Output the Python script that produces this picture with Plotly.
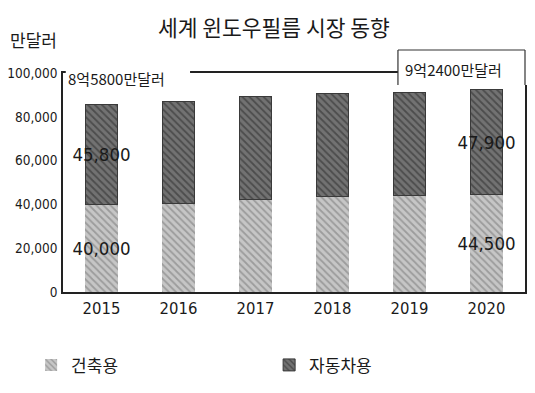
import plotly.graph_objects as go

years = ["2015", "2016", "2017", "2018", "2019", "2020"]
building = [40000, 40500, 42300, 43600, 44200, 44500]
automotive = [45800, 46600, 47000, 47000, 47100, 47900]
series_names = ["건축용", "자동차용"]
y_ticks = [0, 20000, 40000, 60000, 80000, 100000]
y_tick_labels = ["0", "20,000", "40,000", "60,000", "80,000", "100,000"]
labeled_years = ["2015", "2020"]
title_text = "세계 윈도우필름 시장 동향"
unit_text = "만달러"
total_start_text = "8억5800만달러"
total_end_text = "9억2400만달러"

NUM_FONT = "DejaVu Sans Condensed, Liberation Sans Narrow, sans-serif"
KR_FONT = "Noto Sans CJK KR, Noto Sans, sans-serif"


def labels(vals):
    return [f"{v:,}" if y in labeled_years else "" for y, v in zip(years, vals)]


fig = go.Figure()
fig.add_trace(go.Bar(
    x=years, y=building, name=series_names[0],
    text=labels(building), textposition="inside", insidetextanchor="middle",
    textangle=0, constraintext="none",
    textfont=dict(family=NUM_FONT, size=18.5, color="#1a1a1a"),
    marker=dict(color="#c4c4c4", line=dict(width=0),
                pattern=dict(shape="\\", fgcolor="#9c9c9c", bgcolor="#c6c6c6",
                             size=5, solidity=0.35, fillmode="replace")),
))
fig.add_trace(go.Bar(
    x=years, y=automotive, name=series_names[1],
    text=labels(automotive), textposition="inside", insidetextanchor="middle",
    textangle=0, constraintext="none",
    textfont=dict(family=NUM_FONT, size=18.5, color="#1a1a1a"),
    marker=dict(color="#6c6c6c", line=dict(width=1, color="#3a3a3a"),
                pattern=dict(shape="\\", fgcolor="#4c4c4c", bgcolor="#727272",
                             size=5, solidity=0.35, fillmode="replace")),
))

fig.update_layout(
    barmode="stack",
    bargap=0.58,
    width=535, height=393,
    margin=dict(l=55, r=18, t=65, b=109, autoexpand=False),
    paper_bgcolor="white", plot_bgcolor="white",
    font=dict(family=KR_FONT, color="#1a1a1a"),
    title=dict(text=title_text, x=0.497, xanchor="center", y=0.947, yanchor="middle",
               font=dict(family=KR_FONT, size=21.5, color="#1a1a1a")),
    showlegend=True,
    legend=dict(orientation="h", x=-0.069, xanchor="left", y=-0.335, yanchor="middle",
                entrywidth=193, entrywidthmode="pixels",
                font=dict(family=KR_FONT, size=17, color="#1a1a1a"),
                traceorder="normal", bgcolor="rgba(0,0,0,0)"),
    xaxis=dict(type="category", showline=True, mirror=True, linecolor="#222",
               linewidth=1.5, ticks="", showgrid=False, automargin=False,
               tickfont=dict(family=NUM_FONT, size=16.5, color="#1a1a1a")),
    yaxis=dict(range=[0, 100000], tickvals=y_ticks, ticktext=y_tick_labels,
               showline=True, mirror=True, linecolor="#222", linewidth=1.5,
               ticks="", showgrid=False, zeroline=False, ticklabelstandoff=1,
               automargin=False,
               tickfont=dict(family=NUM_FONT, size=13.5, color="#1a1a1a")),
)

# white masks over the top frame where the totals sit
fig.add_shape(type="rect", xref="paper", yref="paper", x0=0.006, x1=0.275,
              y0=0.93, y1=1.06, fillcolor="white", line=dict(width=0), layer="above")
fig.add_shape(type="rect", xref="paper", yref="paper", x0=0.725, x1=1.01,
              y0=0.945, y1=1.105, fillcolor="white", line=dict(width=0), layer="above")
for (x0, y0, x1, y1) in [(0.725, 1.105, 1.0, 1.105), (0.725, 0.945, 0.725, 1.105),
                         (1.0, 0.945, 1.0, 1.105)]:
    fig.add_shape(type="line", xref="paper", yref="paper", x0=x0, y0=y0, x1=x1, y1=y1,
                  line=dict(color="#333", width=1.2), layer="above")

fig.add_annotation(text=total_start_text, xref="paper", yref="paper", x=0.006, y=0.977,
                   xanchor="left", yanchor="middle", showarrow=False,
                   font=dict(family=KR_FONT, size=15, color="#1a1a1a"))
fig.add_annotation(text=total_end_text, xref="paper", yref="paper", x=0.846, y=1.014,
                   xanchor="center", yanchor="middle", showarrow=False,
                   font=dict(family=KR_FONT, size=15, color="#1a1a1a"))
fig.add_annotation(text=unit_text, xref="paper", yref="paper", x=-0.119, y=1.155,
                   xanchor="left", yanchor="middle", showarrow=False,
                   font=dict(family=KR_FONT, size=17, color="#1a1a1a"))

fig.write_html("out.html")
